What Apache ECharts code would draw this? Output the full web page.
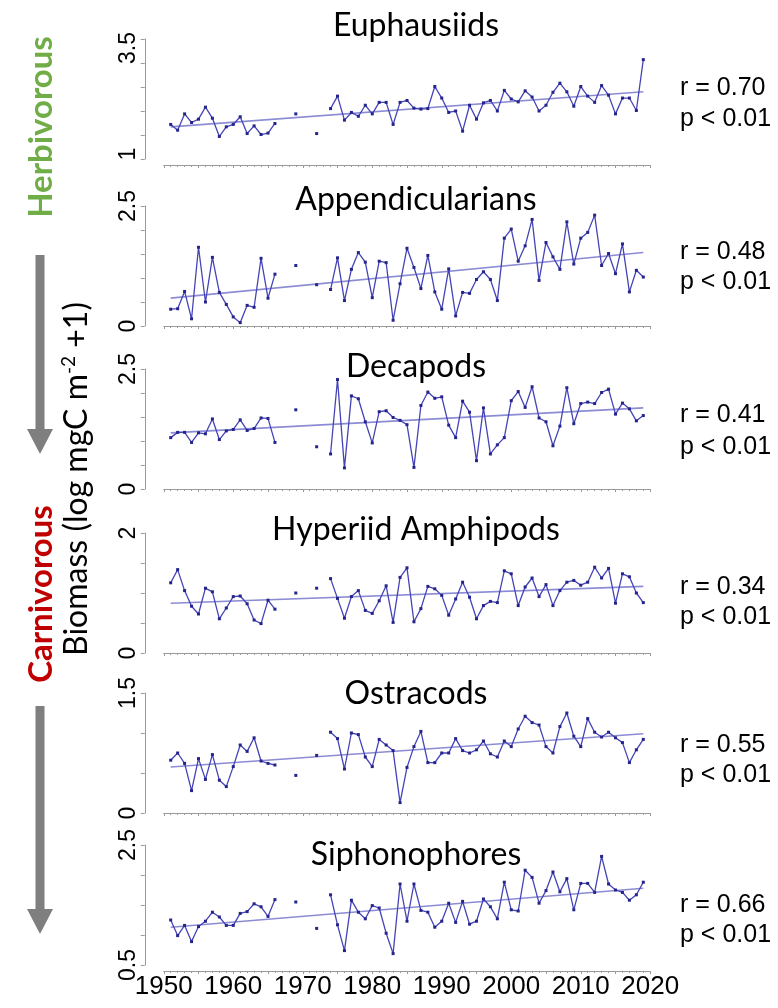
<!DOCTYPE html>
<html><head><meta charset="utf-8">
<script src="https://cdn.jsdelivr.net/npm/echarts@6/dist/echarts.min.js"></script>
<style>html,body{margin:0;padding:0;background:#fff}#c{width:778px;height:1008px}</style>
</head><body><div id="c"></div>
<script>
// ---------- DATA ----------
const years = [1951,1952,1953,1954,1955,1956,1957,1958,1959,1960,1961,1962,1963,1964,1965,1966,1967,1968,1969,1970,
1971,1972,1973,1974,1975,1976,1977,1978,1979,1980,1981,1982,1983,1984,1985,1986,1987,1988,1989,1990,
1991,1992,1993,1994,1995,1996,1997,1998,1999,2000,2001,2002,2003,2004,2005,2006,2007,2008,2009,2010,
2011,2012,2013,2014,2015,2016,2017,2018,2019];

const panelNames = ['Euphausiids','Appendicularians','Decapods','Hyperiid Amphipods','Ostracods','Siphonophores'];
const rValues = ['r = 0.70','r = 0.48','r = 0.41','r = 0.34','r = 0.55','r = 0.66'];
const pValues = ['p < 0.01','p < 0.01','p < 0.01','p < 0.01','p < 0.01','p < 0.01'];
const yMins = [1, 0, 0, 0, 0, 0.5];
const yMaxs = [3.5, 2.5, 2.5, 2, 1.5, 2.5];
const xTickLabels = [1950,1960,1970,1980,1990,2000,2010,2020];

const euphausiids = [1.72,1.60,1.94,1.76,1.83,2.08,1.85,1.47,1.67,1.72,1.88,1.53,1.69,1.51,1.54,1.74,null,null,1.94,null,
null,1.53,null,2.05,2.31,1.81,1.97,1.89,2.12,1.94,2.18,2.18,1.72,2.18,2.22,2.06,2.04,2.05,2.51,2.27,
1.97,2.00,1.58,2.12,1.83,2.17,2.22,2.00,2.43,2.25,2.19,2.42,2.29,2.00,2.12,2.39,2.58,2.40,2.10,2.51,
2.31,2.18,2.53,2.33,1.94,2.27,2.27,2.01,3.07];

const appendicularians = [0.35,0.36,0.72,0.15,1.64,0.50,1.43,0.70,0.45,0.19,0.07,0.43,0.39,1.41,0.58,1.08,null,null,1.26,null,
null,0.86,null,0.76,1.42,0.53,1.18,1.53,1.33,0.59,1.35,1.32,0.12,0.88,1.62,1.22,0.78,1.47,0.71,0.35,
1.19,0.21,0.70,0.68,0.97,1.13,0.97,0.53,1.83,2.02,1.35,1.67,2.22,0.95,1.74,1.44,1.18,2.17,1.29,1.83,
1.95,2.31,1.26,1.51,1.09,1.71,0.71,1.16,1.02];

const decapods = [1.07,1.18,1.18,0.97,1.17,1.15,1.46,1.03,1.21,1.24,1.44,1.22,1.26,1.48,1.47,0.97,null,null,1.65,null,
null,0.88,null,0.73,2.28,0.44,1.94,1.88,1.40,0.96,1.61,1.63,1.49,1.43,1.34,0.45,1.74,2.02,1.89,1.92,
1.33,1.07,1.83,1.60,0.59,1.69,0.73,0.92,1.07,1.84,2.03,1.70,2.13,1.48,1.40,0.90,1.31,2.11,1.36,1.78,
1.81,1.78,2.01,2.08,1.56,1.79,1.67,1.42,1.53];

const hyperiids = [1.17,1.39,1.04,0.78,0.65,1.08,1.02,0.57,0.75,0.94,0.95,0.82,0.55,0.49,0.88,0.73,null,null,1.00,null,
null,1.08,null,1.24,0.91,0.58,0.94,1.04,0.71,0.66,0.87,1.12,0.51,1.26,1.42,0.52,0.74,1.11,1.07,0.96,
0.63,0.90,1.18,0.93,0.57,0.79,0.86,0.84,1.37,1.32,0.79,1.10,1.25,0.94,1.14,0.79,1.04,1.18,1.21,1.13,
1.18,1.43,1.25,1.41,0.83,1.32,1.27,1.00,0.84];

const ostracods = [0.66,0.75,0.62,0.28,0.68,0.42,0.73,0.41,0.33,0.58,0.85,0.77,0.94,0.65,0.62,0.60,null,null,0.47,null,
null,0.72,null,1.01,0.93,0.55,1.00,0.98,0.70,0.58,0.92,0.85,0.78,0.13,0.57,0.83,1.02,0.63,0.63,0.75,
0.75,0.93,0.78,0.75,0.79,0.90,0.74,0.70,0.90,0.83,1.05,1.21,1.13,1.10,0.83,0.75,1.08,1.25,0.96,0.83,
1.18,1.01,0.95,1.01,0.94,0.88,0.63,0.79,0.92];

const siphonophores = [1.25,0.99,1.16,0.89,1.14,1.23,1.38,1.30,1.16,1.16,1.36,1.39,1.52,1.47,1.31,1.59,null,null,1.55,null,
null,1.11,null,1.67,1.17,0.74,1.58,1.38,1.27,1.49,1.45,1.03,0.69,1.85,1.23,1.85,1.41,1.38,1.13,1.23,
1.53,1.21,1.56,1.18,1.23,1.60,1.47,1.27,1.88,1.42,1.40,2.08,1.96,1.53,1.74,2.05,1.72,1.94,1.42,1.86,
1.86,1.71,2.31,1.85,1.75,1.71,1.58,1.67,1.88];

// trend-line end values (at first and last year)
const trendStart = [1.67, 0.58, 1.17, 0.83, 0.575, 1.13];
const trendEnd   = [2.40, 1.53, 1.69, 1.11, 0.99, 1.78];

const seriesValues = [euphausiids, appendicularians, decapods, hyperiids, ostracods, siphonophores];

// ---------- LAYOUT ----------
const gridTops = [39, 206, 369, 533, 693, 845];
const gridH = 120, gridL = 163.75, gridW = 486.5;
const titleY = [26, 200, 367, 530, 694, 855];
const rY = [88, 252, 415, 587, 745, 905];
const pY = [119, 282, 447, 617, 775, 935];
// small along-axis nudges of the end labels (px, + = down) as placed in the original figure
const topLabelShift = [9, 0, 0, 0, 0, 0];
const botLabelShift = [-5, 0, 0, 0, 0, 0];

const axisGrey = '#9a9a9a';
const grids = [], xAxes = [], yAxes = [], series = [], graphics = [];

function near(v, a){ return Math.abs(v-a) < 1e-6; }

for (let i = 0; i < 6; i++) {
  grids.push({left: gridL, top: gridTops[i], width: gridW, height: gridH, containLabel: false});
  xAxes.push({
    type: 'value', gridIndex: i, min: 1950, max: 2020, interval: 5, offset: 6,
    axisLine: {show: true, lineStyle: {color: axisGrey, width: 1}},
    axisTick: {show: true, length: 3, lineStyle: {color: axisGrey}},
    minorTick: {show: true, splitNumber: 5, length: 2, lineStyle: {color: axisGrey}},
    splitLine: {show: false}, minorSplitLine: {show: false},
    axisLabel: {show: i === 5, margin: 3, color: '#000', fontSize: 26, fontFamily: 'Liberation Sans',
      formatter: v => xTickLabels.indexOf(v) >= 0 ? String(v) : ''}
  });
  const mn = yMins[i], mx = yMaxs[i];
  const ts = topLabelShift[i], bs = botLabelShift[i];
  yAxes.push({
    type: 'value', gridIndex: i, min: mn, max: mx, interval: 0.5, offset: 19,
    axisLine: {show: true, lineStyle: {color: axisGrey, width: 1}},
    axisTick: {show: true, length: 4, lineStyle: {color: axisGrey}},
    splitLine: {show: false},
    axisLabel: {rotate: 90, margin: 5, color: '#000', fontSize: 23, fontFamily: 'Liberation Sans',
      formatter: v => near(v, mx) ? '{t|' + v + '}' : (near(v, mn) ? '{b|' + v + '}' : ''),
      rich: {
        t: {fontSize: 23, fontFamily: 'Liberation Sans', color: '#000', padding: [0, Math.max(0, 2*ts), 0, Math.max(0, -2*ts)]},
        b: {fontSize: 23, fontFamily: 'Liberation Sans', color: '#000', padding: [0, Math.max(0, 2*bs), 0, Math.max(0, -2*bs)]}
      }}
  });
  series.push({
    type: 'line', xAxisIndex: i, yAxisIndex: i, z: 2,
    data: [[years[0], trendStart[i]], [years[years.length-1], trendEnd[i]]],
    symbol: 'none', silent: true,
    lineStyle: {color: '#8c8cd4', width: 1.6}
  });
  series.push({
    type: 'line', xAxisIndex: i, yAxisIndex: i, z: 3,
    data: years.map((y, k) => [y, seriesValues[i][k] == null ? '-' : seriesValues[i][k]]),
    connectNulls: false, showSymbol: true, showAllSymbol: true,
    symbol: 'rect', symbolSize: 3,
    itemStyle: {color: '#24248a'},
    lineStyle: {color: '#4444b8', width: 1.3}
  });
  graphics.push({type: 'text', x: 416, y: titleY[i], silent: true,
    style: {text: panelNames[i], fontFamily: 'Lato', fontSize: 32, fill: '#000', align: 'center', verticalAlign: 'middle'}});
  graphics.push({type: 'text', x: 680, y: rY[i], silent: true,
    style: {text: rValues[i], fontFamily: 'Liberation Sans', fontSize: 25, fill: '#000', align: 'left', verticalAlign: 'middle'}});
  graphics.push({type: 'text', x: 680, y: pY[i], silent: true,
    style: {text: pValues[i], fontFamily: 'Liberation Sans', fontSize: 25, fill: '#000', align: 'left', verticalAlign: 'middle'}});
}

// left-side annotations
graphics.push({type: 'text', x: 41, y: 127, rotation: Math.PI/2, silent: true,
  style: {text: 'Herbivorous', fontFamily: 'Lato', fontWeight: 'bold', fontSize: 33, fill: '#70AD47', align: 'center', verticalAlign: 'middle'}});
graphics.push({type: 'text', x: 41, y: 594, rotation: Math.PI/2, silent: true,
  style: {text: 'Carnivorous', fontFamily: 'Lato', fontWeight: 'bold', fontSize: 33, fill: '#C00000', align: 'center', verticalAlign: 'middle'}});
graphics.push({type: 'text', x: 77, y: 479, rotation: Math.PI/2, silent: true,
  style: {text: '{n|Biomass (log mgC m}{s|-2}{n| +1)}', align: 'center', verticalAlign: 'middle',
    rich: {n: {fontFamily: 'Lato', fontSize: 32, fill: '#000', lineHeight: 36},
           s: {fontFamily: 'Lato', fontSize: 19, fill: '#000', verticalAlign: 'top', lineHeight: 36}}}});

function arrow(x, y0, y1){
  const sw = 4.5, hw = 13, hh = 25;
  return {type: 'polygon', silent: true,
    shape: {points: [[x-sw,y0],[x+sw,y0],[x+sw,y1-hh],[x+hw,y1-hh],[x,y1],[x-hw,y1-hh],[x-sw,y1-hh]]},
    style: {fill: '#7f7f7f'}};
}
graphics.push(arrow(40, 255, 454));
graphics.push(arrow(40, 706, 934));

const chart = echarts.init(document.getElementById('c'), null, {renderer: 'canvas'});
chart.setOption({
  animation: false,
  backgroundColor: '#ffffff',
  grid: grids, xAxis: xAxes, yAxis: yAxes, series: series, graphic: graphics
});
</script></body></html>
